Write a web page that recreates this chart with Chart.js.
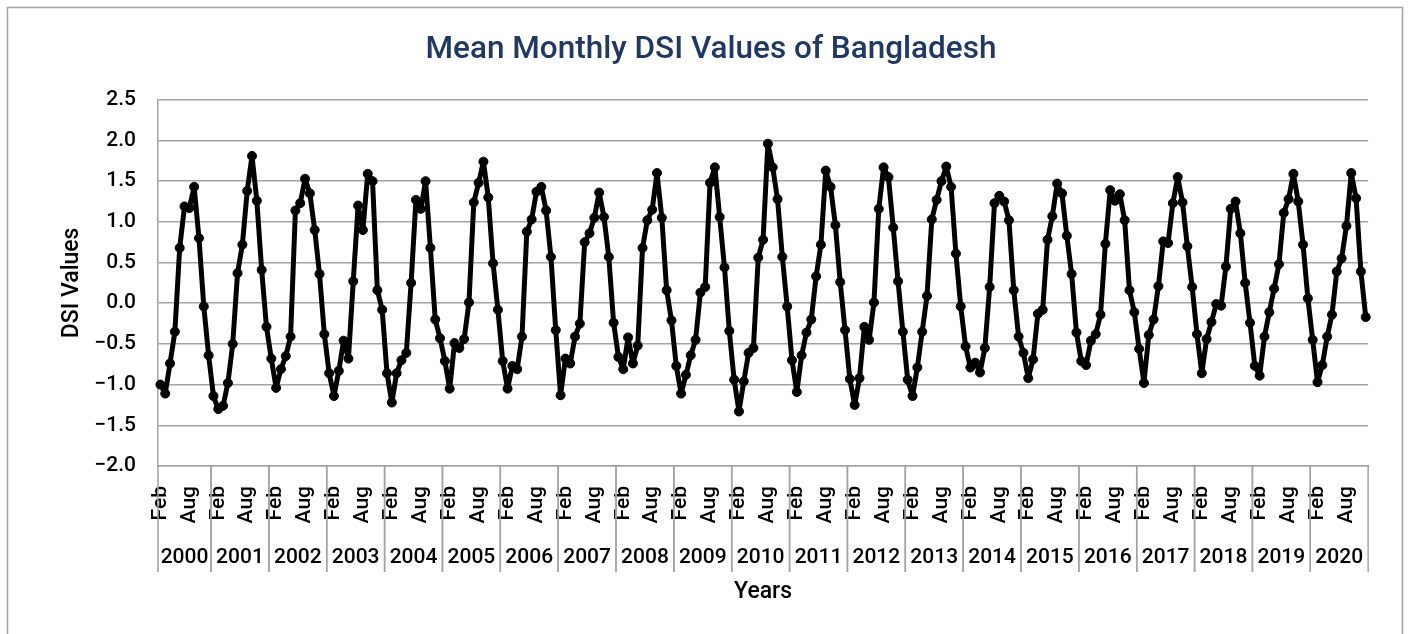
<!DOCTYPE html>
<html>
<head>
<meta charset="utf-8">
<title>Mean Monthly DSI Values of Bangladesh</title>
<script src="https://cdn.jsdelivr.net/npm/chart.js@4.4.1/dist/chart.umd.min.js"></script>
<style>
  html, body { margin: 0; padding: 0; background: #ffffff; }
  #wrap { width: 1411px; height: 634px; }
</style>
</head>
<body>
<div id="wrap"><canvas id="dsi_chart" width="1411" height="634"></canvas></div>
<script>
// series starts in Feb 2000 and runs to Dec 2020
var years = [2000, 2001, 2002, 2003, 2004, 2005, 2006, 2007, 2008, 2009, 2010,
             2011, 2012, 2013, 2014, 2015, 2016, 2017, 2018, 2019, 2020];
var monthNames = ['Jan', 'Feb', 'Mar', 'Apr', 'May', 'Jun', 'Jul', 'Aug', 'Sep', 'Oct', 'Nov', 'Dec'];
var firstMonth = 1; // Feb

// mean monthly DSI, one row per year
var dsiValues = [
  -1.00, -1.11, -0.74, -0.35, 0.68, 1.19, 1.17, 1.43, 0.80, -0.04, -0.64,
  -1.14, -1.30, -1.26, -0.98, -0.50, 0.37, 0.72, 1.38, 1.81, 1.26, 0.41, -0.29,
  -0.68, -1.04, -0.81, -0.65, -0.41, 1.14, 1.23, 1.53, 1.35, 0.90, 0.36, -0.38,
  -0.86, -1.14, -0.83, -0.46, -0.68, 0.27, 1.20, 0.90, 1.59, 1.50, 0.16, -0.08,
  -0.86, -1.22, -0.86, -0.70, -0.61, 0.25, 1.27, 1.16, 1.50, 0.68, -0.20, -0.43,
  -0.71, -1.05, -0.49, -0.55, -0.44, 0.01, 1.24, 1.48, 1.74, 1.30, 0.49, -0.08,
  -0.71, -1.05, -0.77, -0.81, -0.41, 0.88, 1.03, 1.37, 1.43, 1.14, 0.57, -0.33,
  -1.13, -0.68, -0.74, -0.41, -0.25, 0.75, 0.86, 1.05, 1.36, 1.06, 0.57, -0.24,
  -0.66, -0.81, -0.42, -0.74, -0.52, 0.68, 1.02, 1.15, 1.60, 1.05, 0.16, -0.21,
  -0.77, -1.11, -0.88, -0.64, -0.45, 0.13, 0.20, 1.48, 1.67, 1.06, 0.44, -0.34,
  -0.94, -1.33, -0.96, -0.61, -0.55, 0.56, 0.78, 1.96, 1.67, 1.28, 0.57, -0.04,
  -0.70, -1.09, -0.64, -0.36, -0.20, 0.33, 0.72, 1.63, 1.43, 0.96, 0.26, -0.33,
  -0.93, -1.25, -0.92, -0.29, -0.45, 0.01, 1.16, 1.67, 1.55, 0.93, 0.27, -0.35,
  -0.94, -1.14, -0.79, -0.35, 0.09, 1.03, 1.27, 1.50, 1.68, 1.43, 0.61, -0.04,
  -0.53, -0.79, -0.73, -0.85, -0.55, 0.20, 1.23, 1.32, 1.25, 1.02, 0.16, -0.41,
  -0.61, -0.92, -0.69, -0.13, -0.08, 0.78, 1.07, 1.47, 1.35, 0.83, 0.36, -0.36,
  -0.71, -0.76, -0.46, -0.38, -0.14, 0.73, 1.39, 1.26, 1.34, 1.02, 0.16, -0.11,
  -0.56, -0.98, -0.39, -0.20, 0.21, 0.76, 0.74, 1.23, 1.55, 1.24, 0.70, 0.20,
  -0.38, -0.86, -0.44, -0.23, -0.01, -0.03, 0.45, 1.16, 1.25, 0.86, 0.25, -0.24,
  -0.77, -0.89, -0.41, -0.11, 0.18, 0.48, 1.11, 1.28, 1.59, 1.25, 0.72, 0.06,
  -0.45, -0.97, -0.76, -0.41, -0.14, 0.39, 0.55, 0.95, 1.60, 1.29, 0.39, -0.17
];

var yTicks = [-2.0, -1.5, -1.0, -0.5, 0.0, 0.5, 1.0, 1.5, 2.0, 2.5];

var FONT = 'Roboto, "DejaVu Sans", sans-serif';
var GRID = '#a3a3a3';

// month label + year for every point
var labels = [];
var pointYears = [];
for (var y = 0; y < years.length; y++) {
  for (var m = (y === 0 ? firstMonth : 0); m < 12; m++) {
    labels.push(monthNames[m]);
    pointYears.push(years[y]);
  }
}

// outer frame of the chart
var chartFrame = {
  id: 'chartFrame',
  beforeDraw: function(chart) {
    var ctx = chart.ctx;
    ctx.save();
    ctx.fillStyle = '#ffffff';
    ctx.fillRect(0, 0, chart.width, chart.height);
    ctx.strokeStyle = GRID;
    ctx.lineWidth = 1.5;
    ctx.strokeRect(7.5, 7.5, 1395, 700);
    ctx.restore();
  }
};

// second row of the x axis: year names between divider lines
var yearRow = {
  id: 'yearRow',
  afterDraw: function(chart) {
    var ctx = chart.ctx;
    var xs = chart.scales.x;
    var slot = xs.getPixelForValue(1) - xs.getPixelForValue(0);
    var top = chart.chartArea.bottom;
    var bottom = top + 106;
    ctx.save();
    ctx.strokeStyle = GRID;
    ctx.lineWidth = 1.5;
    ctx.fillStyle = '#000000';
    ctx.font = '500 21px ' + FONT;
    ctx.textAlign = 'center';
    ctx.textBaseline = 'middle';
    var start = 0;
    for (var i = 1; i <= pointYears.length; i++) {
      if (i === pointYears.length || pointYears[i] !== pointYears[start]) {
        var x0 = xs.getPixelForValue(start) - slot / 2;
        var x1 = xs.getPixelForValue(i - 1) + slot / 2;
        ctx.beginPath();
        ctx.moveTo(x0, top);
        ctx.lineTo(x0, bottom);
        ctx.moveTo(x1, top);
        ctx.lineTo(x1, bottom);
        ctx.stroke();
        ctx.fillText(String(pointYears[start]), (x0 + x1) / 2, top + 92);
        start = i;
      }
    }
    ctx.restore();
  }
};

function draw_figure() {
  var ctx = document.getElementById('dsi_chart').getContext('2d');

  var dataset = {};
  dataset.label = 'DSI';
  dataset.data = dsiValues;
  dataset.borderColor = '#000000';
  dataset.backgroundColor = '#000000';
  dataset.borderWidth = 5;
  dataset.borderJoinStyle = 'round';
  dataset.borderCapStyle = 'round';
  dataset.pointRadius = 4.5;
  dataset.pointBorderWidth = 1;
  dataset.pointBackgroundColor = '#000000';
  dataset.pointBorderColor = '#000000';
  dataset.tension = 0;

  var data = {};
  data.labels = labels;
  data.datasets = [dataset];

  var opts = {
    responsive: false,
    animation: false,
    layout: { padding: { left: 50, right: 39, top: 0, bottom: 0 } },
    plugins: {
      legend: { display: false },
      tooltip: { enabled: false },
      title: {
        display: true,
        text: 'Mean Monthly DSI Values of Bangladesh',
        color: '#1f3864',
        font: { family: FONT, size: 31.5, weight: '500' },
        padding: { top: 31, bottom: 31 }
      }
    },
    scales: {
      x: {
        type: 'category',
        offset: true,
        grid: { display: false, drawTicks: false },
        border: { display: true, color: GRID, width: 1.5 },
        ticks: {
          autoSkip: false,
          minRotation: 90,
          maxRotation: 90,
          padding: 20,
          color: '#000000',
          font: { family: FONT, size: 21, weight: '500' },
          callback: function(val, idx) {
            return idx % 6 === 0 ? labels[idx] : '';
          }
        },
        title: {
          display: true,
          text: 'Years',
          color: '#000000',
          font: { family: FONT, size: 23, weight: '500' },
          padding: { top: 0, bottom: 28 }
        },
        afterFit: function(scale) { scale.height = 168; }
      },
      y: {
        min: -2,
        max: 2.5,
        afterBuildTicks: function(scale) {
          scale.ticks = yTicks.map(function(v) { return { value: v }; });
        },
        grid: { color: GRID, lineWidth: 1.5, drawTicks: false },
        border: { display: true, color: GRID, width: 1.5 },
        ticks: {
          padding: 22,
          color: '#000000',
          font: { family: FONT, size: 21, weight: '500' },
          callback: function(v) { return Number(v).toFixed(1).replace('-', '\u2212'); }
        },
        title: {
          display: true,
          text: 'DSI Values',
          color: '#000000',
          font: { family: FONT, size: 23, weight: '500' },
          padding: { top: 8, bottom: 0 }
        },
        afterFit: function(scale) { scale.width = 108; }
      }
    }
  };

  var params = {};
  params.type = 'line';
  params.data = data;
  params.options = opts;
  params.plugins = [chartFrame, yearRow];
  return new Chart(ctx, params);
}

draw_figure();
</script>
</body>
</html>
